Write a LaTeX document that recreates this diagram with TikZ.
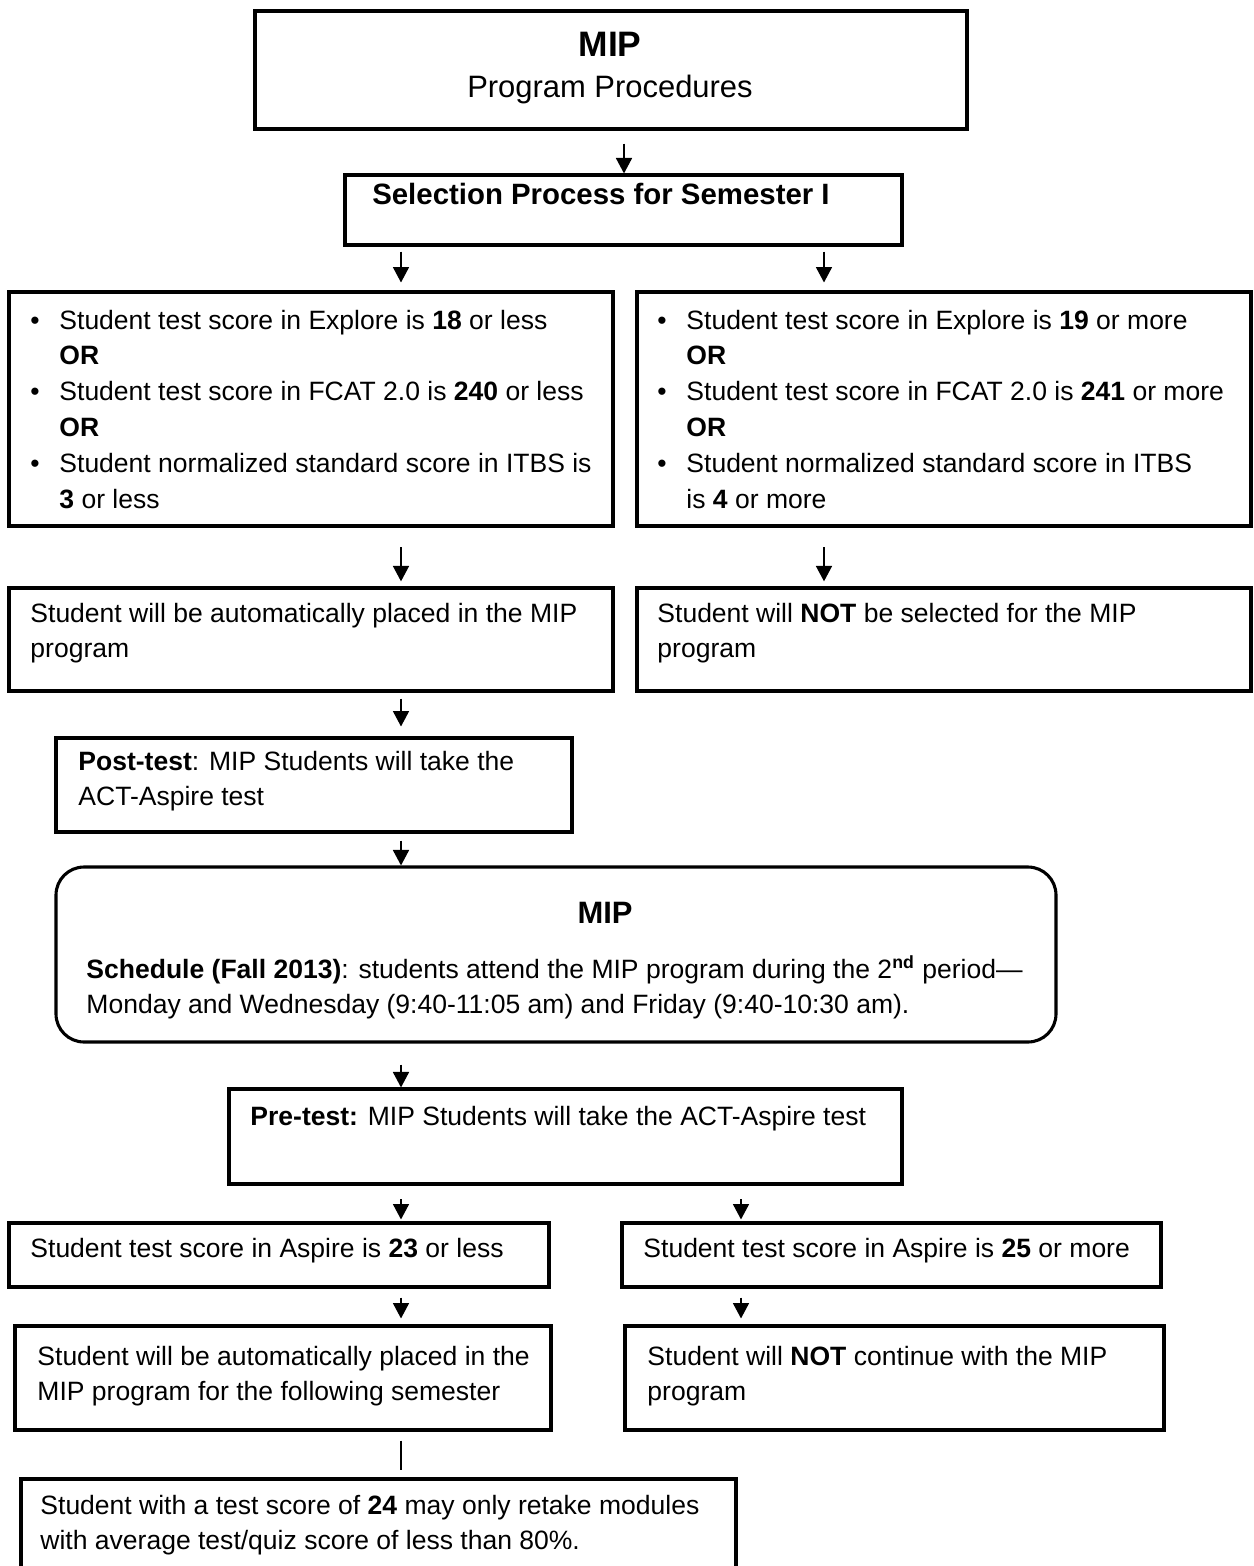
\documentclass[tikz,border=0pt]{standalone}
\usepackage{fontspec}
\setmainfont{Liberation Sans}
\usetikzlibrary{fit,arrows.meta}
\newcommand\mylines[1]{\begin{tabular}[t]{@{}l@{}}#1\end{tabular}}
\begin{document}
\begin{tikzpicture}[x=0.4525pt,y=-0.4525pt,
  box/.style={draw,line width=1.4pt,inner sep=0pt},
  rbox/.style={box,rounded corners=12.7pt},
  arr/.style={line width=0.9pt,-{Triangle[width=7.2pt,length=7pt]}},
  plain/.style={line width=0.7pt},
  txt/.style={anchor=base west,inner sep=0pt,font=\fontsize{12}{16.2}\selectfont},
  ctxt/.style={txt,anchor=base},
  bul/.style={anchor=base,inner sep=0pt,font=\fontsize{12}{16.2}\selectfont}]
\useasboundingbox (0,0) rectangle (1254,1566);
% columns
\coordinate (cA) at (624,0);
\coordinate (cL) at (401,0);
\coordinate (cR) at (824,0);
\coordinate (cR2) at (741,0);
% boxes
\node[box,fit={(255,11) (967,129)}] (top) {};
\node[box,fit={(345,175) (902,245)}] (sel) {};
\node[box,fit={(9,292) (613,526)}] (b3L) {};
\node[box,fit={(637,292) (1251,526)}] (b3R) {};
\node[box,fit={(9,588) (613,691)}] (b4L) {};
\node[box,fit={(637,588) (1251,691)}] (b4R) {};
\node[box,fit={(56,738) (572,832)}] (b5) {};
\node[rbox,fit={(56,867) (1056,1042)}] (b6) {};
\node[box,fit={(229,1089) (902,1184)}] (b7) {};
\node[box,fit={(9,1223) (549,1287)}] (b8L) {};
\node[box,fit={(622,1223) (1161,1287)}] (b8R) {};
\node[box,fit={(15,1326) (551,1430)}] (b9L) {};
\node[box,fit={(625,1326) (1164,1430)}] (b9R) {};
\node[box,fit={(21,1479) (736,1572)}] (b10) {};
% texts
\node[ctxt,font=\fontsize{16}{19}\selectfont\bfseries] (t1a) at (610,56) {MIP};
\node[ctxt,font=\fontsize{14}{17}\selectfont] (t1b) at (610,97) {Program Procedures};
\node[ctxt,font=\fontsize{13.3}{16.2}\selectfont\bfseries] (t2) at (601,204) {Selection Process for Semester I};
% left criteria
\node[bul] (bl1) at (35,329) {•};
\node[bul] (bl2) at (35,400.6) {•};
\node[bul] (bl3) at (35,472.2) {•};
\node[txt] (t3L) at (59,329) {\mylines{Student test score in Explore is \textbf{18} or less\\
\textbf{OR}\\
Student test score in FCAT 2.0 is \textbf{240} or less\\
\textbf{OR}\\
Student normalized standard score in ITBS is\\
\textbf{3} or less}};
% right criteria
\node[bul] (br1) at (662,329) {•};
\node[bul] (br2) at (662,400.6) {•};
\node[bul] (br3) at (662,472.2) {•};
\node[txt] (t3R) at (686,329) {\mylines{Student test score in Explore is \textbf{19} or more\\
\textbf{OR}\\
Student test score in FCAT 2.0 is \textbf{241} or more\\
\textbf{OR}\\
Student normalized standard score in ITBS\\
is \textbf{4} or more}};
\node[txt] (t4L) at (30,622) {\mylines{Student will be automatically placed in the MIP\\program}};
\node[txt] (t4R) at (657,622) {\mylines{Student will \textbf{NOT} be selected for the MIP\\program}};
\node[txt] (t5) at (78,770) {\mylines{\textbf{Post-test}: MIP Students will take the\\ACT-Aspire test}};
\node[ctxt,font=\fontsize{14}{17}\selectfont\bfseries] (t6a) at (605,923) {MIP};
\node[txt] (t6b) at (86,978) {\mylines{\textbf{Schedule (Fall 2013)}: students attend the MIP program during the 2\textsuperscript{\textbf{nd}} period—\\
Monday and Wednesday (9:40-11:05 am) and Friday (9:40-10:30 am).}};
\node[txt] (t7) at (250,1125) {\textbf{Pre-test:} MIP Students will take the ACT-Aspire test};
\node[txt] (t8L) at (30,1257) {Student test score in Aspire is \textbf{23} or less};
\node[txt] (t8R) at (643,1257) {Student test score in Aspire is \textbf{25} or more};
\node[txt] (t9L) at (37,1365) {\mylines{Student will be automatically placed in the\\MIP program for the following semester}};
\node[txt] (t9R) at (647,1365) {\mylines{Student will \textbf{NOT} continue with the MIP\\program}};
\node[txt] (t10) at (40,1514) {\mylines{Student with a test score of \textbf{24} may only retake modules\\with average test/quiz score of less than 80\%.}};
% connectors
\draw[arr,shorten <=5.9pt] (top.south -| cA) -- (sel.north -| cA);
\draw[arr,shorten <=2.3pt,shorten >=3.6pt] (sel.south -| cL) -- (b3L.north -| cL);
\draw[arr,shorten <=2.3pt,shorten >=3.6pt] (sel.south -| cR) -- (b3R.north -| cR);
\draw[arr,shorten <=9pt,shorten >=2.3pt] (b3L.south -| cL) -- (b4L.north -| cL);
\draw[arr,shorten <=9pt,shorten >=2.3pt] (b3R.south -| cR) -- (b4R.north -| cR);
\draw[arr,shorten <=2.7pt,shorten >=4.5pt] (b4L.south -| cL) -- (b5.north -| cL);
\draw[arr,shorten <=3.2pt] (b5.south -| cL) -- (b6.north -| cL);
\draw[arr,shorten <=9.5pt] (b6.south -| cL) -- (b7.north -| cL);
\draw[arr,shorten <=6.3pt,shorten >=0.9pt] (b7.south -| cL) -- (b8L.north -| cL);
\draw[arr,shorten <=6.3pt,shorten >=0.9pt] (b7.south -| cR2) -- (b8R.north -| cR2);
\draw[arr,shorten <=4.1pt,shorten >=2.7pt] (b8L.south -| cL) -- (b9L.north -| cL);
\draw[arr,shorten <=4.1pt,shorten >=2.7pt] (b8R.south -| cR2) -- (b9R.north -| cR2);
\draw[plain,shorten <=4.1pt,shorten >=3.6pt] (b9L.south -| cL) -- (b10.north -| cL);
\end{tikzpicture}
\end{document}
